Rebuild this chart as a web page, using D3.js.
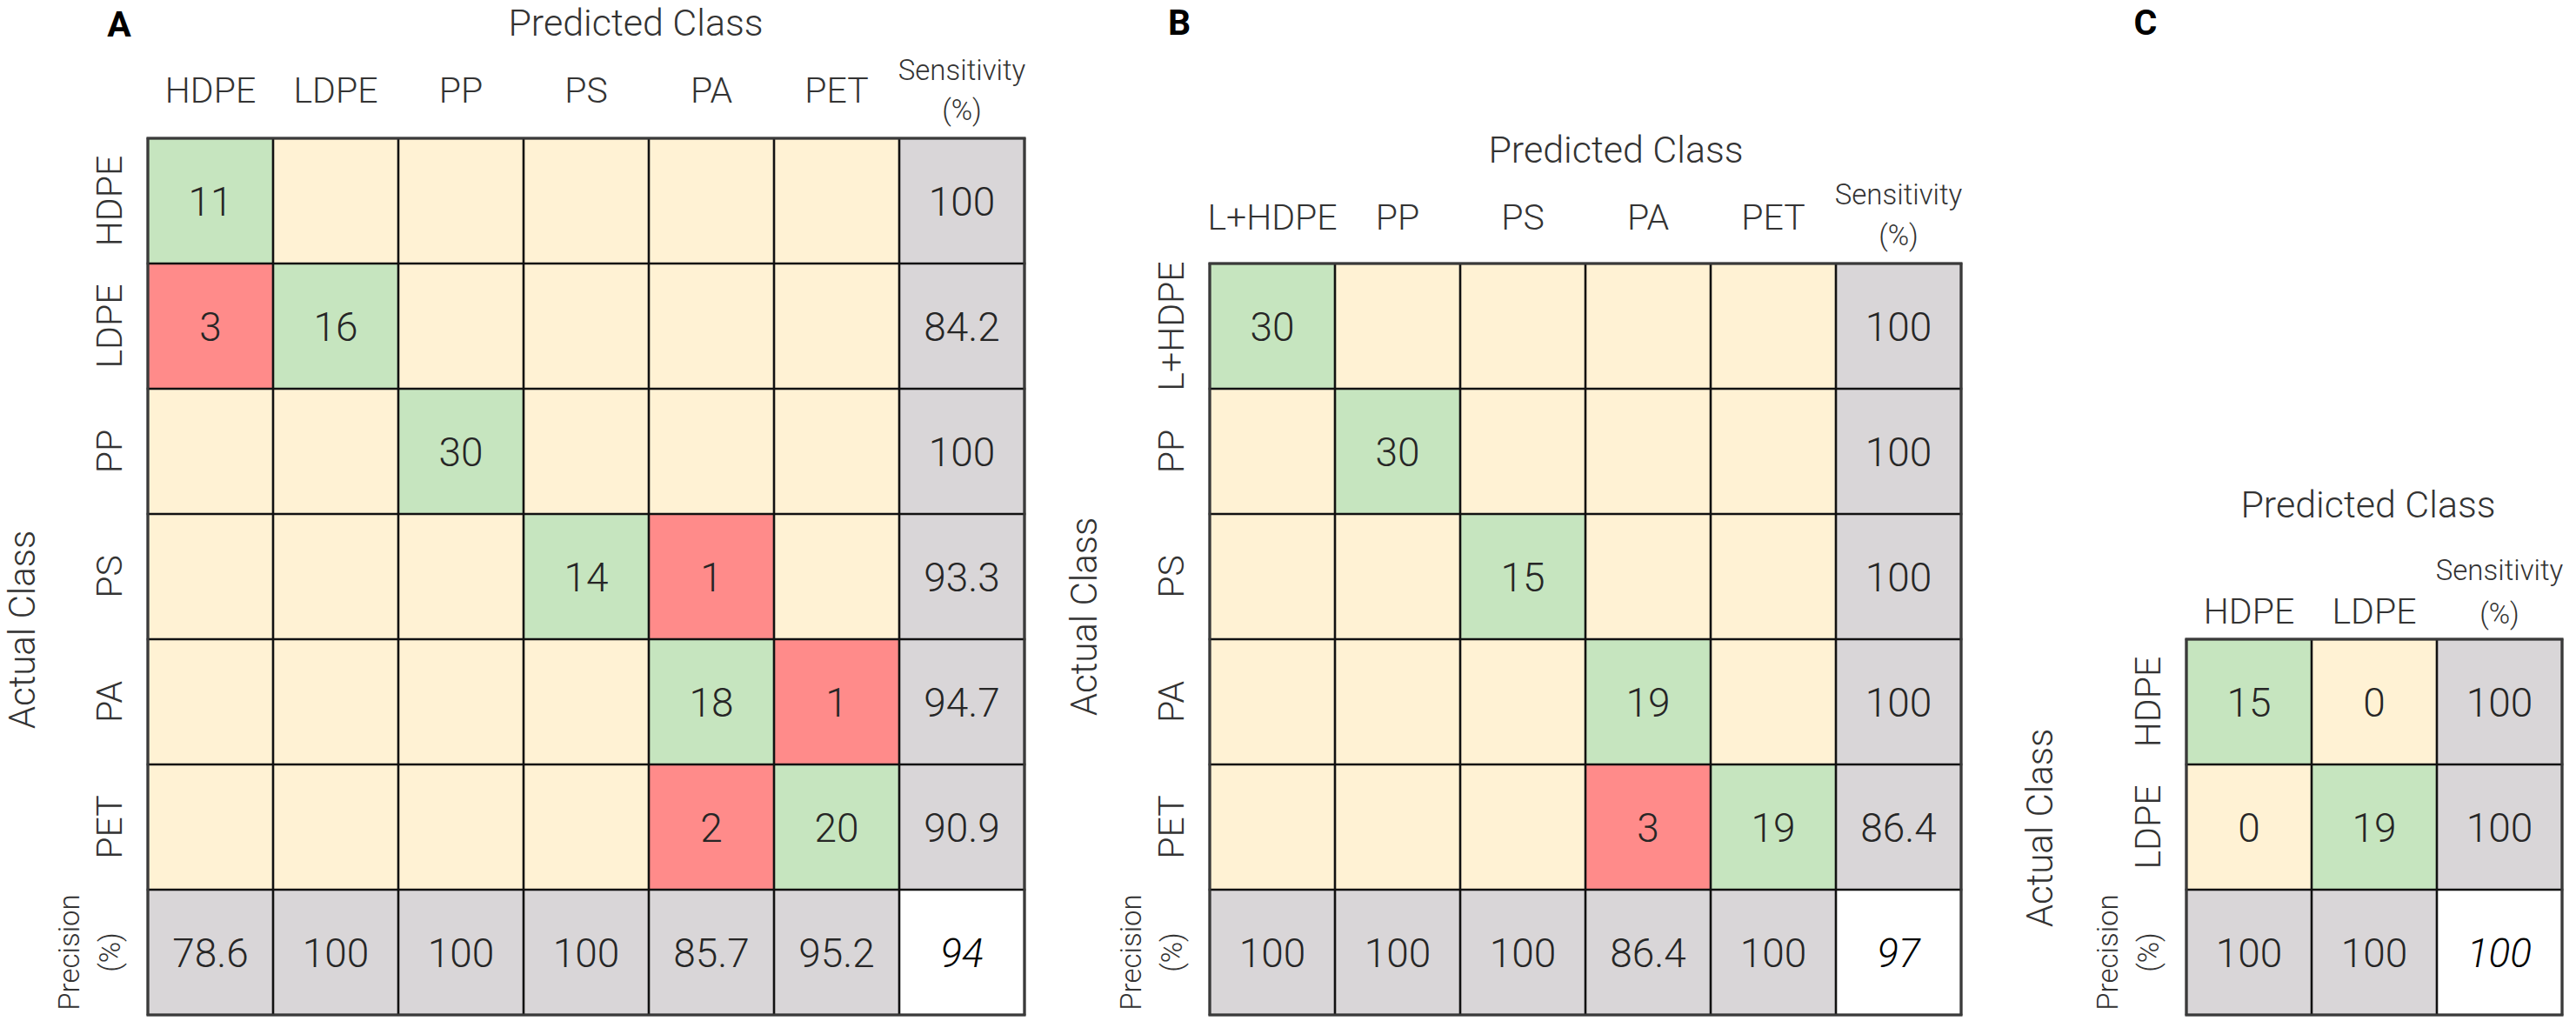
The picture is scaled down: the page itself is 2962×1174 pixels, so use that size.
<!DOCTYPE html>
<html>
<head>
<meta charset="utf-8">
<script src="https://cdn.jsdelivr.net/npm/d3@7"></script>
<style>
  html, body { margin: 0; padding: 0; background: #ffffff; }
  svg { display: block; }
  text { font-family: Roboto, "Open Sans", sans-serif; }
</style>
</head>
<body>
<svg id="chart" width="2962" height="1174"></svg>
<script>
// ---------------- DATA ----------------
const panelLetters = ["A", "B", "C"];
const predictedTitle = "Predicted Class";
const actualTitle = "Actual Class";
const sensitivityHeader = ["Sensitivity", "(%)"];
const precisionHeader = ["Precision", "(%)"];

const classesA = ["HDPE", "LDPE", "PP", "PS", "PA", "PET"];
const countsA = [
  [11, null, null, null, null, null],
  [3, 16, null, null, null, null],
  [null, null, 30, null, null, null],
  [null, null, null, 14, 1, null],
  [null, null, null, null, 18, 1],
  [null, null, null, null, 2, 20]
];
const sensitivityA = [100, 84.2, 100, 93.3, 94.7, 90.9];
const precisionA = [78.6, 100, 100, 100, 85.7, 95.2];
const accuracyA = 94;

const classesB = ["L+HDPE", "PP", "PS", "PA", "PET"];
const countsB = [
  [30, null, null, null, null],
  [null, 30, null, null, null],
  [null, null, 15, null, null],
  [null, null, null, 19, null],
  [null, null, null, 3, 19]
];
const sensitivityB = [100, 100, 100, 100, 86.4];
const precisionB = [100, 100, 100, 86.4, 100];
const accuracyB = 97;

const classesC = ["HDPE", "LDPE"];
const countsC = [
  [15, 0],
  [0, 19]
];
const sensitivityC = [100, 100];
const precisionC = [100, 100];
const accuracyC = 100;

// ---------------- LAYOUT / STYLE ----------------
const colors = {
  correct: "#c6e5bf",
  wrong: "#ff8b8a",
  empty: "#fff2d4",
  summary: "#d9d6d8",
  overall: "#ffffff",
  line: "#111111",
  text: "#262626",
  label: "#333333"
};

const layouts = [
  { left: 170, top: 159, cell: 144, colGap: 41, sens: [67, 21],
    title: [731, 41], actual: [40, 724], letter: [137, 42] },
  { left: 1391, top: 303, cell: 144, colGap: 39, sens: [68, 21],
    title: [1858, 187], actual: [1261, 709], letter: [1356, 40] },
  { left: 2514, top: 735, cell: 144, colGap: 18, sens: [68, 18],
    title: [2723, 595], actual: [2360, 952], letter: [2467, 40] }
];

const panels = [
  { classes: classesA, counts: countsA, sens: sensitivityA, prec: precisionA, acc: accuracyA },
  { classes: classesB, counts: countsB, sens: sensitivityB, prec: precisionB, acc: accuracyB },
  { classes: classesC, counts: countsC, sens: sensitivityC, prec: precisionC, acc: accuracyC }
];

const svg = d3.select("#chart");
const SENS = "__sens", PREC = "__prec";

panels.forEach((p, pi) => {
  const L = layouts[pi];
  const n = p.classes.length;
  const g = svg.append("g");

  const x = d3.scaleBand().domain([...p.classes, SENS])
    .range([L.left, L.left + (n + 1) * L.cell]).padding(0);
  const y = d3.scaleBand().domain([...p.classes, PREC])
    .range([L.top, L.top + (n + 1) * L.cell]).padding(0);

  // build cell table
  const cells = [];
  p.classes.forEach((rc, i) => {
    p.classes.forEach((cc, j) => {
      const v = p.counts[i][j];
      let fill = colors.empty;
      if (i === j) fill = colors.correct;
      else if (v !== null && v > 0) fill = colors.wrong;
      cells.push({ r: rc, c: cc, v: v, fill: fill, italic: false });
    });
    cells.push({ r: rc, c: SENS, v: p.sens[i], fill: colors.summary, italic: false });
  });
  p.classes.forEach((cc, j) => {
    cells.push({ r: PREC, c: cc, v: p.prec[j], fill: colors.summary, italic: false });
  });
  cells.push({ r: PREC, c: SENS, v: p.acc, fill: colors.overall, italic: true });

  g.selectAll("rect.cell").data(cells).join("rect")
    .attr("class", "cell")
    .attr("x", d => x(d.c)).attr("y", d => y(d.r))
    .attr("width", x.bandwidth()).attr("height", y.bandwidth())
    .attr("fill", d => d.fill);

  // grid lines
  const xs = x.domain().map(d => x(d)).concat([x.range()[1]]);
  const ys = y.domain().map(d => y(d)).concat([y.range()[1]]);
  g.selectAll("line.v").data(xs).join("line")
    .attr("x1", d => d).attr("x2", d => d)
    .attr("y1", y.range()[0]).attr("y2", y.range()[1])
    .attr("stroke", colors.line).attr("stroke-width", 2.6);
  g.selectAll("line.h").data(ys).join("line")
    .attr("y1", d => d).attr("y2", d => d)
    .attr("x1", x.range()[0] - 1.3).attr("x2", x.range()[1] + 1.3)
    .attr("stroke", colors.line).attr("stroke-width", 2.6);
  g.append("rect")
    .attr("x", x.range()[0]).attr("y", y.range()[0])
    .attr("width", x.range()[1] - x.range()[0])
    .attr("height", y.range()[1] - y.range()[0])
    .attr("fill", "none").attr("stroke", "#3a3a3a").attr("stroke-width", 3);

  // values
  g.selectAll("text.val").data(cells.filter(d => d.v !== null)).join("text")
    .attr("class", "val")
    .attr("x", d => x(d.c) + x.bandwidth() / 2)
    .attr("y", d => y(d.r) + y.bandwidth() / 2)
    .attr("dy", "0.36em")
    .attr("text-anchor", "middle")
    .attr("font-size", 46)
    .attr("font-weight", 300)
    .attr("font-style", d => d.italic ? "italic" : "normal")
    .attr("fill", d => d.italic ? "#000" : colors.text)
    .text(d => String(d.v));

  // column labels (axis)
  const axTop = g.append("g")
    .attr("transform", `translate(0,${L.top - L.colGap})`)
    .call(d3.axisTop(x).tickValues(p.classes).tickSize(0).tickPadding(0));
  axTop.select(".domain").remove();
  axTop.attr("font-family", null).attr("font-size", null);
  axTop.selectAll("text")
    .attr("dy", null).attr("y", 0)
    .attr("font-size", 41).attr("font-weight", 300)
    .attr("fill", colors.label);

  // row labels (axis, rotated)
  const axLeft = g.append("g")
    .attr("transform", `translate(${L.left - 30},0)`)
    .call(d3.axisLeft(y).tickValues(p.classes).tickSize(0).tickPadding(0));
  axLeft.select(".domain").remove();
  axLeft.attr("font-family", null).attr("font-size", null);
  axLeft.selectAll("text")
    .attr("x", null).attr("dy", null)
    .attr("transform", "rotate(-90)")
    .attr("text-anchor", "middle")
    .attr("font-size", 41).attr("font-weight", 300)
    .attr("fill", colors.label);

  // sensitivity header
  const sx = x(SENS) + x.bandwidth() / 2;
  sensitivityHeader.forEach((t, k) => {
    g.append("text")
      .attr("x", sx).attr("y", L.top - L.sens[k])
      .attr("text-anchor", "middle")
      .attr("font-size", 33).attr("font-weight", 300)
      .attr("fill", colors.label)
      .text(t);
  });

  // precision header (rotated)
  const py = y(PREC) + y.bandwidth() / 2;
  const precOffsets = [79, 32];
  precisionHeader.forEach((t, k) => {
    g.append("text")
      .attr("transform", `translate(${L.left - precOffsets[k]},${py}) rotate(-90)`)
      .attr("text-anchor", "middle")
      .attr("font-size", 33).attr("font-weight", 300)
      .attr("fill", colors.label)
      .text(t);
  });

  // Predicted Class title
  g.append("text")
    .attr("x", L.title[0]).attr("y", L.title[1])
    .attr("text-anchor", "middle")
    .attr("font-size", 43).attr("font-weight", 300)
    .attr("fill", colors.label)
    .text(predictedTitle);

  // Actual Class title
  g.append("text")
    .attr("transform", `translate(${L.actual[0]},${L.actual[1]}) rotate(-90)`)
    .attr("text-anchor", "middle")
    .attr("font-size", 42).attr("font-weight", 300)
    .attr("fill", colors.label)
    .text(actualTitle);

  // panel letter
  g.append("text")
    .attr("x", L.letter[0]).attr("y", L.letter[1])
    .attr("text-anchor", "middle")
    .attr("font-family", "'Open Sans', sans-serif")
    .attr("font-size", 41).attr("font-weight", 700)
    .attr("fill", "#000")
    .text(panelLetters[pi]);
});
</script>
</body>
</html>
